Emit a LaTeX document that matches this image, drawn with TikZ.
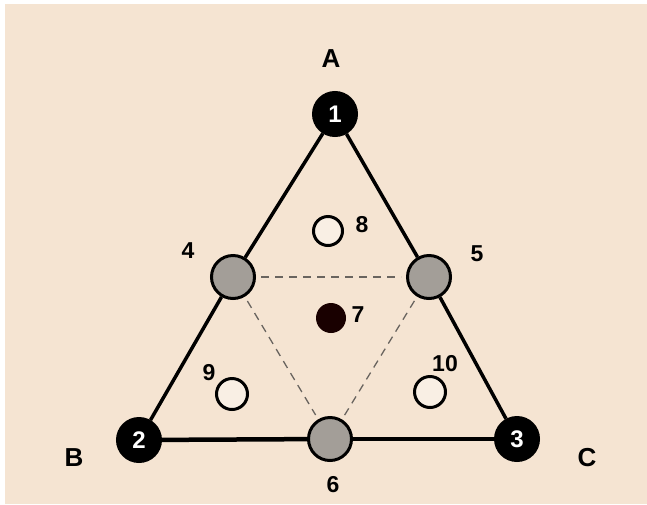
\documentclass[tikz,border=0pt]{standalone}
\usepackage{fontspec}
\newfontfamily\diagfont{Liberation Sans}

\definecolor{paper}{RGB}{245,228,210}
\definecolor{midgray}{RGB}{163,158,152}
\definecolor{dashgray}{RGB}{105,100,95}

\begin{document}
\begin{tikzpicture}[x=1pt, y=-1pt,
  corner/.style={circle, draw=black, fill=black, line width=3pt, inner sep=0pt, minimum size=43pt,
                 text=white, font=\diagfont\bfseries\fontsize{24}{24}\selectfont},
  midpt/.style={circle, draw=black, fill=midgray, line width=3pt, inner sep=0pt, minimum size=43pt},
  centre/.style={circle, fill=black!90!red, inner sep=0pt, minimum size=30pt},
  open/.style={circle, draw=black, fill=paper!60!white, line width=3pt, inner sep=0pt, minimum size=29pt},
  letter/.style={font=\diagfont\bfseries\fontsize{26}{26}\selectfont, inner sep=0pt},
  num/.style={font=\diagfont\bfseries\fontsize{23}{23}\selectfont, inner sep=0pt},
  edge/.style={line width=3.5pt},
  base/.style={line width=4.5pt},
  split/.style={line width=1.3pt, dashgray, dash pattern=on 8pt off 6pt, shorten <=5pt, shorten >=5pt}]

\useasboundingbox (0,0) rectangle (647,504);
\fill[white] (0,0) rectangle (647,504);
\fill[paper] (5,4) rectangle (647,504);

% ---------- points ----------
\node[corner] (n1) at (335,114) {1};
\node[corner] (n2) at (139,440) {2};
\node[corner] (n3) at (517,439) {3};
\node[midpt]  (n4) at (233,277) {};
\node[midpt]  (n5) at (429,277) {};
\node[midpt]  (n6) at (330,439) {};
\node[centre] (n7) at (331,318) {};
\node[open]   (n8) at (328,231) {};
\node[open, minimum size=31pt] (n9) at (232,394) {};
\node[open, minimum size=31pt] (n10) at (430,392) {};

% ---------- labels ----------
\node[letter] (l-a) at (331,59) {A};
\node[letter] (l-b) at (74,458) {B};
\node[letter] (l-c) at (587,458) {C};
\node[num] (l4) at (188,251) {4};
\node[num] (l5) at (477,254) {5};
\node[num] (l6) at (333,485) {6};
\node[num] (l7) at (358,315) {7};
\node[num] (l8) at (362,225) {8};
\node[num] (l9) at (209,373) {9};
\node[num] (l10) at (445,364) {10};

% ---------- edges ----------
\foreach \i/\j in {n1/n4, n4/n2, n3/n5, n5/n1} {
  \draw[edge] (\i) -- (\j);
}
\foreach \i/\j in {n2/n6, n6/n3} {
  \draw[base] (\i) -- (\j);
}
\foreach \i/\j in {n4/n5, n4/n6, n5/n6} {
  \draw[split] (\i) -- (\j);
}
\end{tikzpicture}
\end{document}
